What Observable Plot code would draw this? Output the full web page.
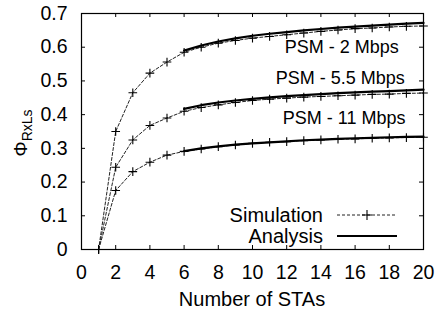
<!DOCTYPE html>
<html>
<head>
<meta charset="utf-8">
<script src="https://cdn.jsdelivr.net/npm/d3@7"></script>
<script src="https://cdn.jsdelivr.net/npm/@observablehq/plot@0.6"></script>
<style>
  html, body { margin: 0; padding: 0; background: #fff; }
  #chart svg { display: block; }
</style>
</head>
<body>
<div id="chart"></div>
<script>
// ---- data ----
const simX = [1,2,3,4,5,6,7,8,9,10,11,12,13,14,15,16,17,18,19,20];
const sim2  = [0,0.350,0.465,0.523,0.556,0.585,0.600,0.612,0.620,0.627,0.632,0.637,0.642,0.647,0.651,0.655,0.657,0.660,0.662,0.663];
const sim55 = [0,0.244,0.325,0.368,0.390,0.410,0.421,0.429,0.436,0.442,0.446,0.449,0.452,0.454,0.456,0.458,0.460,0.461,0.463,0.464];
const sim11 = [0,0.175,0.231,0.259,0.280,0.291,0.298,0.305,0.310,0.315,0.318,0.320,0.323,0.325,0.327,0.328,0.330,0.331,0.332,0.333];
const anaX = [6,7,8,9,10,11,12,13,14,15,16,17,18,19,20];
const ana2  = [0.590,0.605,0.617,0.626,0.634,0.640,0.645,0.650,0.654,0.658,0.661,0.664,0.667,0.670,0.672];
const ana55 = [0.417,0.428,0.436,0.442,0.447,0.451,0.455,0.458,0.461,0.464,0.466,0.468,0.470,0.472,0.474];
const ana11 = [0.292,0.300,0.306,0.311,0.315,0.318,0.321,0.324,0.326,0.328,0.330,0.331,0.333,0.334,0.335];
const seriesNames = ["PSM - 2 Mbps", "PSM - 5.5 Mbps", "PSM - 11 Mbps"];
const labelX = [18.55, 18.9, 18.95];
const labelY = [0.599, 0.507, 0.389];
const xTicks = [0,2,4,6,8,10,12,14,16,18,20];
const yTicks = [0,0.1,0.2,0.3,0.4,0.5,0.6,0.7];
const legendNames = ["Simulation", "Analysis"];

// ---- build tables ----
const simSets = [sim2, sim55, sim11];
const anaSets = [ana2, ana55, ana11];
const sim = simSets.flatMap((arr, i) => arr.map((v, j) => ({x: simX[j], y: v, s: seriesNames[i]})));
const ana = anaSets.flatMap((arr, i) => arr.map((v, j) => ({x: anaX[j], y: v, s: seriesNames[i]})));
const labels = seriesNames.map((n, i) => ({x: labelX[i], y: labelY[i], t: n}));

const W = 436, H = 313;
const mL = 81, mR = 13, mT = 13, mB = 64;
const plotW = W - mL - mR, plotH = H - mT - mB;
const FONT = "Liberation Sans, Arial, sans-serif";
const FS = 19.5;

const chart = Plot.plot({
  width: W, height: H,
  marginLeft: mL, marginRight: mR, marginTop: mT, marginBottom: mB,
  style: {fontFamily: FONT, fontSize: FS + "px", background: "#fff", color: "#000"},
  x: {domain: [0, 20], label: null},
  y: {domain: [0, 0.7], label: null},
  marks: [
    Plot.axisX({ticks: xTicks, tickSize: 0, tickPadding: 15.5, label: null, fontSize: FS, fill: "#000"}),
    Plot.axisY({ticks: yTicks, tickSize: 0, tickPadding: 14, label: null, fontSize: FS, fill: "#000", tickFormat: d => d === 0 ? "0" : d3.format(".1f")(d)}),
    Plot.tickX(xTicks, {x: d => d, insetTop: plotH - 4, stroke: "#000"}),
    Plot.tickX(xTicks, {x: d => d, insetBottom: plotH - 4, stroke: "#000"}),
    Plot.tickY(yTicks, {y: d => d, insetLeft: plotW - 4, stroke: "#000"}),
    Plot.tickY(yTicks, {y: d => d, insetRight: plotW - 4, stroke: "#000"}),
    Plot.line(sim, {x: "x", y: "y", z: "s", stroke: "#222", strokeWidth: 1, strokeDasharray: "3,2"}),
    Plot.dot(sim, {x: "x", y: "y", symbol: "plus", r: 2.9, stroke: "#000", strokeWidth: 1.1}),
    Plot.line(ana, {x: "x", y: "y", z: "s", stroke: "#000", strokeWidth: 2.2}),
    Plot.text(labels, {x: "x", y: "y", text: "t", textAnchor: "end", fontSize: 18, fill: "#000"}),
    Plot.frame({stroke: "#000", strokeWidth: 1.2})
  ]
});

document.getElementById("chart").appendChild(chart);

// ---- axis titles & legend ----
const svg = d3.select(chart);
svg.append("text")
  .attr("x", mL + plotW / 2).attr("y", 306)
  .attr("text-anchor", "middle")
  .attr("font-family", FONT).attr("font-size", 20)
  .attr("fill", "#000")
  .text("Number of STAs");

const yl = svg.append("text")
  .attr("transform", "translate(27,133) rotate(-90)")
  .attr("text-anchor", "middle")
  .attr("font-family", FONT).attr("font-size", 19)
  .attr("fill", "#000");
yl.append("tspan").text("\u03A6");
yl.append("tspan").attr("font-size", 14).attr("dy", 5).text("RxLs");

const leg = svg.append("g").attr("font-family", FONT).attr("font-size", 20);
const legY = [215, 236];
legendNames.forEach((n, i) => {
  leg.append("text").attr("x", 323).attr("y", legY[i]).attr("dy", "0.35em")
    .attr("text-anchor", "end").attr("fill", "#000").text(n);
  leg.append("line").attr("x1", 337).attr("x2", 397).attr("y1", legY[i]).attr("y2", legY[i])
    .attr("stroke", i === 0 ? "#222" : "#000")
    .attr("stroke-width", i === 0 ? 1 : 2.2)
    .attr("stroke-dasharray", i === 0 ? "3,2" : null);
  if (i === 0) {
    leg.append("path").attr("d", "M362,215H372M367,210V220").attr("stroke", "#000").attr("stroke-width", 1.1);
  }
});
</script>
</body>
</html>
